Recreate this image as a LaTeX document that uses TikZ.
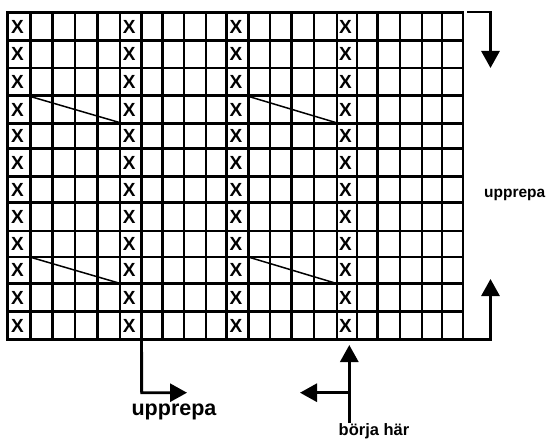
\documentclass[tikz,border=0pt]{standalone}
\usepackage{fontspec}
\setmainfont{Liberation Sans}
\usetikzlibrary{arrows.meta}

\tikzset{
  gridline/.style={line width=2.6pt, line cap=rect},
  xcell/.style={inner sep=0pt, minimum width=21pt, minimum height=26pt,
    font=\fontsize{19}{19}\selectfont\bfseries},
  slant/.style={line width=1.5pt},
  bigarrow/.style={line width=2.9pt, -{Triangle[length=17pt,width=18pt]}},
  label/.style={inner sep=0pt, font=\bfseries},
}

\begin{document}
\begin{tikzpicture}[x=1pt,y=-1pt]
    \useasboundingbox (0,0) rectangle (549,441);

    % grid lines
    \foreach \x in {7.3,30.7,52.7,75,97.3,120,141.7,162.7,184,206,226.7,248.3,270,291.7,314,337,357,377.5,400,422,442,463}
        \draw[gridline] (\x,12.7) -- (\x,339.3);
    \foreach \y in {12.7,40.7,68,95.8,123.3,148.3,176.7,202.7,230.8,257,283.3,311.7,339.3}
        \draw[gridline] (7.3,\y) -- (463,\y);

    % X cells
    \foreach \c/\x in {0/19,5/130.8,10/237.5,15/347}
        \foreach \r/\y in {0/26.7,1/54.4,2/81.9,3/109.5,4/135.8,5/162.5,6/189.7,7/216.7,8/243.9,9/270.2,10/297.5,11/325.5}
            \node[xcell] (x-\c-\r) at (\x,\y) {\hspace*{-3pt}X};

    % slanted strands
    \draw[slant] (x-0-3.north east) -- (x-5-3.south west);
    \draw[slant] (x-10-3.north east) -- (x-15-3.south west);
    \draw[slant] (x-0-9.north east) -- (x-5-9.south west);
    \draw[slant] (x-10-9.north east) -- (x-15-9.south west);

    % repeat arrows on the right
    \coordinate (topA) at (467,12);
    \coordinate (topB) at (490.5,12);
    \coordinate (topC) at (490.5,68);
    \coordinate (botA) at (463,339.3);
    \coordinate (botB) at (490.5,339.3);
    \coordinate (botC) at (490.5,279);
    \draw[bigarrow] (topA) -- (topB) -- (topC);
    \draw[bigarrow] (botA) -- (botB) -- (botC);
    \node[label, font=\fontsize{15.5}{15.5}\selectfont\bfseries] (repR) at (514.7,195) {upprepa};

    % repeat arrow below
    \coordinate (turnL) at (141.7,392.7);
    \coordinate (tipL) at (187,392.7);
    \draw[bigarrow] (x-5-11.south east) -- (turnL) -- (tipL);
    \node[label, font=\fontsize{21.5}{21.5}\selectfont\bfseries] (repB) at (174,412) {upprepa};

    % start arrow
    \coordinate (startB) at (349.3,423);
    \coordinate (tipB) at (349.3,345);
    \coordinate (forkB) at (349.3,392.7);
    \coordinate (leftB) at (300,392.7);
    \draw[bigarrow] (startB) -- (tipB);
    \draw[bigarrow] (forkB) -- (leftB);
    \node[label, font=\fontsize{16.5}{16.5}\selectfont\bfseries] (start) at (374,431) {börja här};

\end{tikzpicture}
\end{document}
